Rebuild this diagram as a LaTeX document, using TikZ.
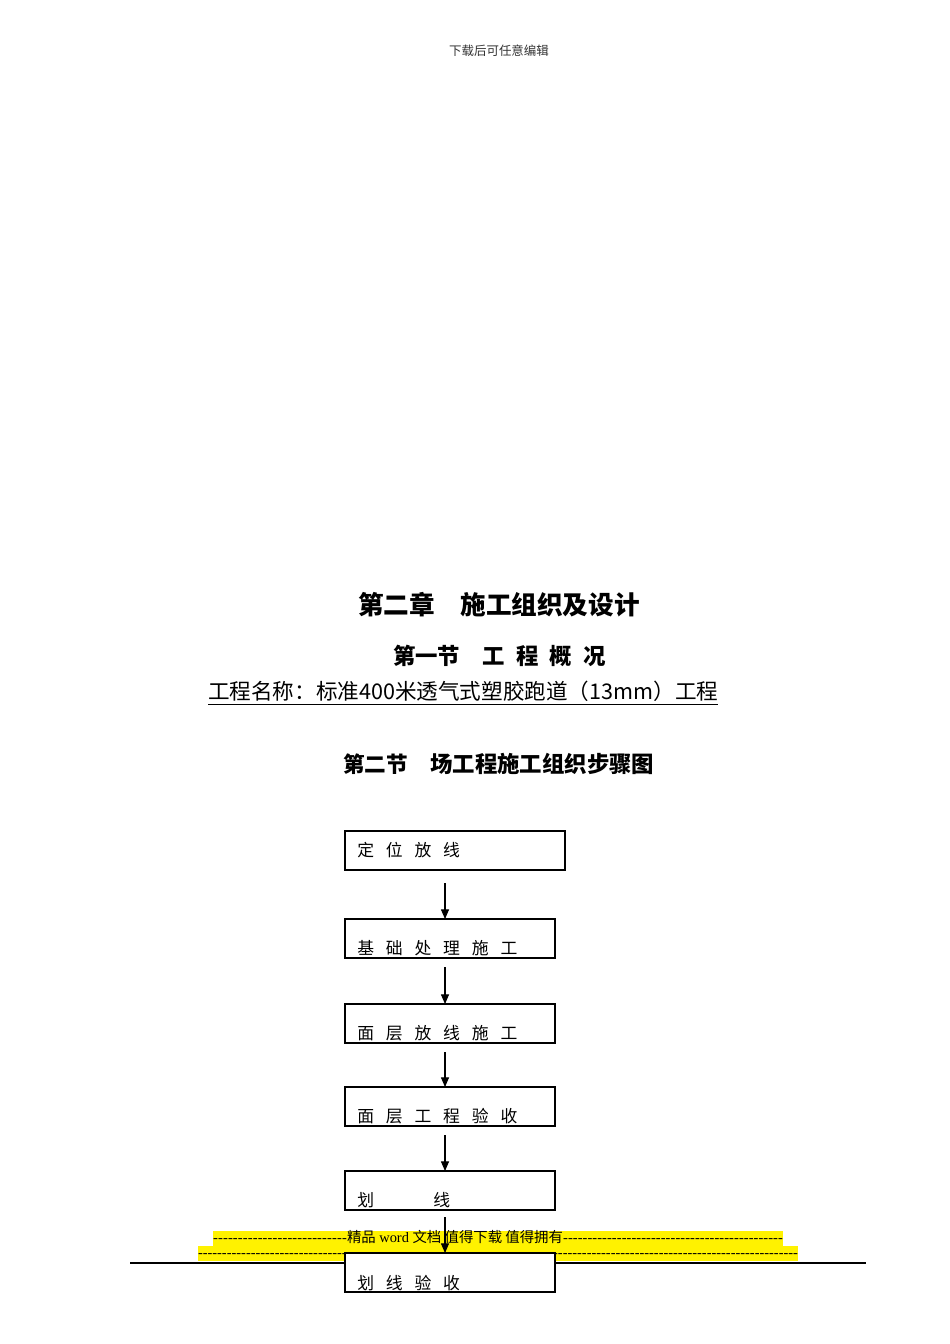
\documentclass[tikz,border=0pt]{standalone}
\usepackage{fontspec}
\setmainfont{Liberation Serif}
\newfontfamily\cjk{Noto Sans CJK SC}
\usetikzlibrary{arrows.meta,calc}
\newcommand\gp{\hspace{7.4pt}}
\tikzset{
  stepbox/.style={draw=black, line width=0.9pt, fill=white, inner sep=0pt, outer sep=0pt, anchor=north west, minimum height=24.375pt},
  boxtxt/.style={anchor=west, inner sep=0pt, font=\cjk\fontsize{10.5pt}{10.5pt}\selectfont},
  arr/.style={line width=0.65pt, -{Triangle[length=6pt,width=5pt]}},
  hl/.style={fill=yellow, draw=none},
  plain/.style={inner sep=0pt, outer sep=0pt},
  foot/.style={plain, font=\fontsize{9pt}{9pt}\selectfont, text height=6pt, text depth=1.5pt}
}
\begin{document}
\begin{tikzpicture}[x=0.625pt, y=-0.625pt]
\useasboundingbox (0,0) rectangle (950,1344);
% header
\node[plain, text=black!80, font=\cjk\fontsize{7.8pt}{8pt}\selectfont] (hdr) at (499,51) {下载后可任意编辑};
% titles
\node[plain, anchor=west, font=\cjk\bfseries\fontsize{16pt}{16pt}\selectfont] (t1) at (358,605) {第二章\hspace{1em}施工组织及设计};
\node[plain, anchor=west, font=\cjk\bfseries\fontsize{14pt}{14pt}\selectfont] (t2) at (393,656) {第一节\hspace{1em}工\hspace{0.5em}程\hspace{0.5em}概\hspace{0.5em}况};
\node[plain, anchor=west, font=\cjk\fontsize{13.5pt}{13.5pt}\selectfont] (t3) at (208,691) {工程名称：标准400米透气式塑胶跑道（13mm）工程};
\draw[line width=0.7pt] ($(t3.south west)+(0,3)$) -- ($(t3.south east)+(0,3)$);
\node[plain, anchor=west, font=\cjk\bfseries\fontsize{13.5pt}{13.5pt}\selectfont] (t4) at (343,764) {第二节\hspace{14pt}{\fontsize{14pt}{14pt}\selectfont 场工程施工组织步骤图}};
% footer highlight
\fill[hl] (213,1231) rectangle (783,1246);
\fill[hl] (198,1246) rectangle (798,1261);
\node[foot] (f1) at (498,1238.5) {\hbox to 356.25pt{\xleaders\hbox{-}\hskip 83.75pt{\cjk 精品} word {\cjk 文档 值得下载 值得拥有}\xleaders\hbox{-}\hfill}};
\node[foot] (f2) at (498,1253.5) {\hbox to 375pt{\xleaders\hbox{-}\hfill}};
\draw[line width=0.7pt] (130,1263) -- (866,1263);
% boxes
\node[stepbox, minimum width=137.5pt] (b1) at (345,831) {};
\node[stepbox, minimum width=131.25pt] (b2) at (345,919) {};
\node[stepbox, minimum width=131.25pt] (b3) at (345,1004) {};
\node[stepbox, minimum width=131.25pt] (b4) at (345,1087) {};
\node[stepbox, minimum width=131.25pt] (b5) at (345,1171) {};
\node[stepbox, minimum width=131.25pt] (b6) at (345,1253) {};
\node[boxtxt] (l1) at ($(b1.west)+(12,0)$) {定\gp 位\gp 放\gp 线};
\node[boxtxt] (l2) at ($(b2.south west)+(12,-10)$) {基\gp 础\gp 处\gp 理\gp 施\gp 工};
\node[boxtxt] (l3) at ($(b3.south west)+(12,-10)$) {面\gp 层\gp 放\gp 线\gp 施\gp 工};
\node[boxtxt] (l4) at ($(b4.south west)+(12,-10)$) {面\gp 层\gp 工\gp 程\gp 验\gp 收};
\node[boxtxt] (l5) at ($(b5.south west)+(12,-10)$) {划\hspace{37pt}线};
\node[boxtxt] (l6) at ($(b6.south west)+(12,-9)$) {划\gp 线\gp 验\gp 收};
% arrows
\draw[arr] ($(b1.south west)+(100,13)$) -- ($(b2.north west)+(100,0)$);
\draw[arr] ($(b2.south west)+(100,9)$) -- ($(b3.north west)+(100,0)$);
\draw[arr] ($(b3.south west)+(100,9)$) -- ($(b4.north west)+(100,0)$);
\draw[arr] ($(b4.south west)+(100,9)$) -- ($(b5.north west)+(100,0)$);
\draw[arr] ($(b5.south west)+(100,7)$) -- ($(b6.north west)+(100,0)$);
\end{tikzpicture}
\end{document}
